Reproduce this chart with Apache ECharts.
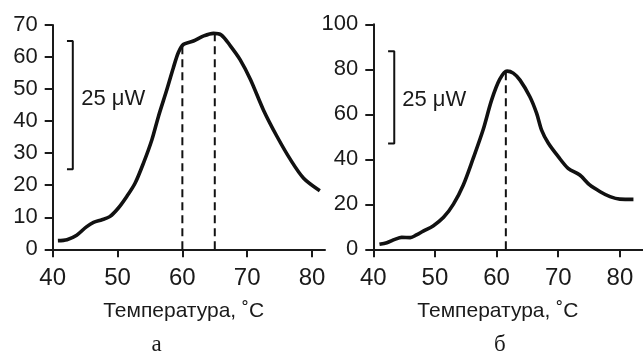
<!DOCTYPE html>
<html>
<head>
<meta charset="utf-8">
<script src="https://cdn.jsdelivr.net/npm/echarts@6/dist/echarts.min.js"></script>
<style>
  html, body { margin: 0; padding: 0; background: #fff; }
  #chart { width: 643px; height: 352px; }
</style>
</head>
<body>
<div id="chart"></div>
<script>
// Heat-flow curves, panel "а" and panel "б"
const curveA = [
  [40.8, 2.7], [42.2, 3.0], [43.7, 4.4], [45.2, 7.0], [46.3, 8.4], [47.6, 9.2],
  [48.8, 10.2], [50.1, 12.8], [51.4, 16.4], [52.7, 20.6], [54.0, 26.9], [55.3, 34.2],
  [56.3, 41.4], [57.6, 49.8], [58.6, 56.6], [59.4, 61.5], [60.2, 64.0], [61.7, 65.0],
  [63.3, 66.6], [64.8, 67.4], [66.0, 66.9], [67.4, 63.5], [68.9, 59.2], [70.5, 53.0],
  [72.5, 43.5], [74.6, 35.2], [76.7, 27.9], [78.7, 22.2], [81.2, 18.3]
];
const curveB = [
  [41.0, 2.2], [42.2, 2.9], [43.5, 4.4], [44.6, 5.3], [46.0, 5.2], [47.0, 6.4],
  [48.1, 8.1], [49.7, 10.4], [51.4, 14.2], [53.0, 20.1], [54.6, 28.6], [56.2, 40.4],
  [57.8, 53.0], [59.2, 66.4], [60.5, 75.5], [61.7, 79.2], [62.7, 78.3], [63.8, 75.2],
  [65.4, 67.8], [66.5, 60.4], [67.3, 53.0], [68.4, 47.1], [70.0, 41.2], [71.6, 36.0],
  [73.5, 33.0], [75.1, 28.6], [76.8, 25.6], [78.4, 23.4], [80.0, 22.3], [82.2, 22.2]
];

// Peak markers: [temperature, curve value]
const peaksA = [[60, 64.0], [65, 67.3]];
const peaksB = [[61.5, 79.2]];

// Scale bars (25 µW): [x of cap end, x of bar, y bottom, y top]
const scaleBarA = [42.2, 43.1, 25, 65];
const scaleBarB = [42.4, 43.4, 47, 88];
// Where the "25 µW" captions start: [x, y] in each panel's data space
const scaleTextPosA = [44.4, 46.8];
const scaleTextPosB = [44.7, 66.6];
const scaleText = '25 \u03bcW';

// Axis ticks
const xTicks = [40, 50, 60, 70, 80];

const xName = 'Температура, ˚C';
const xNameAt = 60.2;
const panelNames = ['а', 'б'];

const INK = '#1a1a1a';
const SANS = '"Liberation Sans", Arial, Helvetica, sans-serif';
const SERIF = '"Liberation Serif", "Times New Roman", serif';

function xAxisFor(gridIndex, max) {
  return {
    type: 'value', gridIndex, min: 40, max, interval: 10,
    axisLine: { show: true, lineStyle: { color: INK, width: 2 } },
    axisTick: { show: true, length: 8, customValues: xTicks, lineStyle: { color: INK, width: 2 } },
    axisLabel: { customValues: xTicks, color: INK, fontFamily: SANS, fontSize: 24, margin: 17 },
    splitLine: { show: false }
  };
}
function yAxisFor(gridIndex, max, interval) {
  return {
    type: 'value', gridIndex, min: 0, max, interval,
    axisLine: { show: true, lineStyle: { color: INK, width: 2 } },
    axisTick: { show: true, length: 8, lineStyle: { color: INK, width: 2 } },
    axisLabel: { color: INK, fontFamily: SANS, fontSize: 22, margin: 15 },
    splitLine: { show: false }
  };
}

function curveSeries(data, idx) {
  return {
    type: 'line', xAxisIndex: idx, yAxisIndex: idx, data,
    smooth: 0.3, showSymbol: false, symbol: 'none',
    lineStyle: { color: '#111', width: 3.6 }, z: 5
  };
}
function peakSeries(peaks, idx) {
  return peaks.map(p => ({
    type: 'line', xAxisIndex: idx, yAxisIndex: idx,
    data: [[p[0], 0], [p[0], p[1]]], symbol: 'none',
    lineStyle: { color: '#111', width: 2, type: [8, 5] }, z: 3
  }));
}
function barSeries(bar, idx) {
  const [xc, xb, y0, y1] = bar;
  return {
    type: 'line', xAxisIndex: idx, yAxisIndex: idx, symbol: 'none',
    data: [[xc, y1], [xb, y1], [xb, y0], [xc, y0]],
    lineStyle: { color: '#111', width: 2 }
  };
}

const chart = echarts.init(document.getElementById('chart'), null, { renderer: 'canvas' });
chart.setOption({
  animation: false,
  backgroundColor: '#fff',
  grid: [
    { left: 52.7, top: 25, width: 272.3, height: 224.3 },
    { left: 373.3, top: 24.3, width: 269.4, height: 225 }
  ],
  xAxis: [xAxisFor(0, 82), xAxisFor(1, 83.7)],
  yAxis: [yAxisFor(0, 70, 10), yAxisFor(1, 100, 20)],
  series: [
    curveSeries(curveA, 0),
    curveSeries(curveB, 1),
    ...peakSeries(peaksA, 0),
    ...peakSeries(peaksB, 1),
    barSeries(scaleBarA, 0),
    barSeries(scaleBarB, 1)
  ]
});

// Captions and axis titles placed through each grid's coordinate system
const toPx = (grid, p) => chart.convertToPixel({ gridIndex: grid }, p);
const textEl = (pt, text, font, align, dx, dy) => ({
  type: 'text', x: pt[0] + dx, y: pt[1] + dy,
  style: { text, fill: INK, font, textAlign: align, textVerticalAlign: 'middle' }
});
const captionA = toPx(0, scaleTextPosA);
const captionB = toPx(1, scaleTextPosB);
const nameA = toPx(0, [xNameAt, 0]);
const nameB = toPx(1, [xNameAt, 0]);
chart.setOption({
  graphic: [
    textEl(captionA, scaleText, '22px ' + SANS, 'left', 0, 0),
    textEl(captionB, scaleText, '22px ' + SANS, 'left', 0, 0),
    textEl(nameA, xName, '21px ' + SANS, 'center', 0, 62),
    textEl(nameB, xName, '21px ' + SANS, 'center', 0, 62),
    textEl(nameA, panelNames[0], '23px ' + SERIF, 'center', -27, 95.5),
    textEl(nameB, panelNames[1], '23px ' + SERIF, 'center', 2, 95.5)
  ]
});
</script>
</body>
</html>
